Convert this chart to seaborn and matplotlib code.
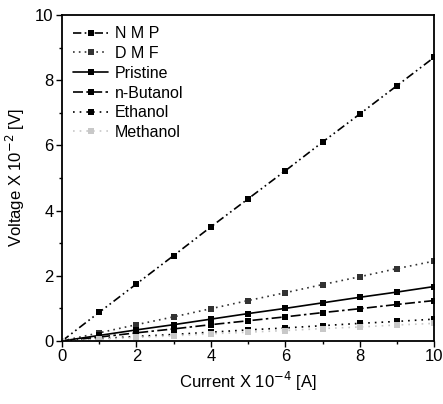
import numpy as np
import pandas as pd
import matplotlib
matplotlib.use("Agg")
import matplotlib.pyplot as plt
import seaborn as sns
from matplotlib.ticker import MultipleLocator

current = [0, 1, 2, 3, 4, 5, 6, 7, 8, 9, 10]
nmp = [0, 0.88, 1.75, 2.62, 3.5, 4.36, 5.22, 6.1, 6.96, 7.83, 8.7]
dmf = [0, 0.25, 0.5, 0.74, 0.99, 1.24, 1.48, 1.73, 1.97, 2.22, 2.45]
pristine = [0, 0.17, 0.34, 0.5, 0.67, 0.84, 1.0, 1.17, 1.34, 1.5, 1.67]
butanol = [0, 0.12, 0.25, 0.37, 0.5, 0.62, 0.74, 0.87, 0.99, 1.12, 1.24]
ethanol = [0, 0.07, 0.14, 0.2, 0.27, 0.34, 0.4, 0.47, 0.54, 0.6, 0.67]
methanol = [0, 0.05, 0.11, 0.16, 0.22, 0.27, 0.32, 0.38, 0.43, 0.49, 0.54]

series = {
    "N M P": nmp,
    "D M F": dmf,
    "Pristine": pristine,
    "n-Butanol": butanol,
    "Ethanol": ethanol,
    "Methanol": methanol,
}
styles = {
    "N M P": dict(ls=(0, (5, 2, 1, 2, 1, 2)), color="black"),
    "D M F": dict(ls=(0, (1, 2.5)), color="#333333"),
    "Pristine": dict(ls="-", color="black"),
    "n-Butanol": dict(ls=(0, (6, 2, 1.5, 2)), color="black"),
    "Ethanol": dict(ls=(0, (1, 3)), color="black"),
    "Methanol": dict(ls=(0, (1, 3)), color="#c8c8c8"),
}

rows = []
for name, vals in series.items():
    for x, y in zip(current, vals):
        rows.append({"Current": x, "Voltage": y, "Sample": name})
df = pd.DataFrame(rows)

sns.set_style("white")
plt.rcParams["font.family"] = ["Liberation Sans", "DejaVu Sans"]
plt.rcParams["text.color"] = "black"
plt.rcParams["axes.labelcolor"] = "black"
plt.rcParams["xtick.color"] = "black"
plt.rcParams["ytick.color"] = "black"

fig = plt.figure(figsize=(4.43, 4.04), dpi=100)
ax = fig.add_axes([0.140, 0.156, 0.840, 0.807])

for name in series:
    sub = df[df["Sample"] == name]
    st = styles[name]
    sns.lineplot(data=sub, x="Current", y="Voltage", ax=ax, label=name,
                 color=st["color"], linestyle=st["ls"], linewidth=1.2,
                 marker="s", markersize=4.5, markeredgewidth=0,
                 markerfacecolor=st["color"])

ax.set_xlim(0, 10)
ax.set_ylim(0, 10)
ax.xaxis.set_major_locator(MultipleLocator(2))
ax.xaxis.set_minor_locator(MultipleLocator(1))
ax.yaxis.set_major_locator(MultipleLocator(2))
ax.yaxis.set_minor_locator(MultipleLocator(1))
ax.tick_params(which="major", direction="out", length=4, width=1,
               labelsize=12, bottom=True, left=True, pad=2, colors="black")
ax.tick_params(which="minor", direction="out", length=2.5, width=1,
               bottom=True, left=True, colors="black")
for sp in ax.spines.values():
    sp.set_color("black")
    sp.set_linewidth(1.3)

ax.set_xlabel(r"Current X 10$^{-4}$ [A]", fontsize=12, labelpad=4, color="black")
ax.set_ylabel(r"Voltage X 10$^{-2}$ [V]", fontsize=12, labelpad=6, color="black")

leg = ax.legend(loc="upper left", frameon=False, fontsize=11.5,
                handlelength=2.2, handletextpad=0.4, labelspacing=0.3,
                borderaxespad=0.3)
for t in leg.get_texts():
    t.set_color("black")

fig.savefig("out.png", dpi=100)
